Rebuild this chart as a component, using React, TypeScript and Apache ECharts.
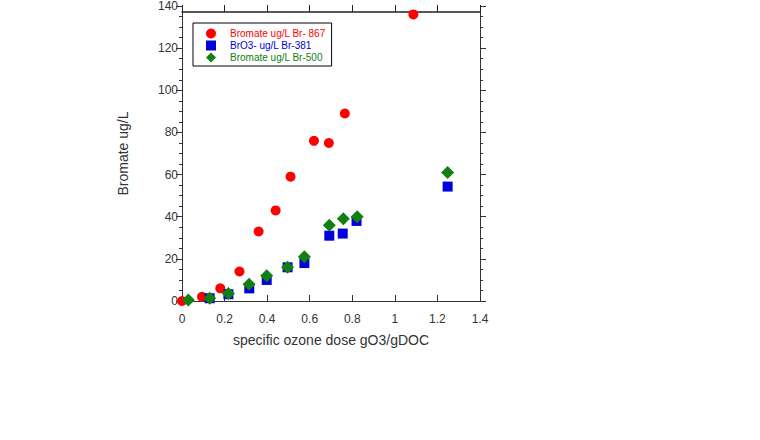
import React, { useEffect, useRef } from "react";
import * as echarts from "echarts";

const seriesNames = ["Bromate ug/L Br- 867", "BrO3- ug/L Br-381", "Bromate ug/L Br-500"];
const seriesColors = ["#ff0000", "#0000dd", "#118011"];

const red867: [number, number][] = [
  [0.0, 0], [0.094, 2], [0.18, 6], [0.27, 14], [0.36, 33], [0.44, 43],
  [0.51, 59], [0.62, 76], [0.69, 75], [0.765, 89], [1.087, 136],
];
const blue381: [number, number][] = [
  [0.13, 1.3], [0.218, 3.2], [0.316, 6], [0.398, 10], [0.496, 16], [0.575, 18],
  [0.692, 31], [0.755, 32], [0.82, 38], [1.248, 54.3],
];
const green500: [number, number][] = [
  [0.03, 0.5], [0.13, 1.3], [0.218, 3.6], [0.315, 8], [0.398, 12], [0.496, 16],
  [0.575, 21], [0.692, 36], [0.758, 39], [0.823, 40], [1.248, 61],
];

const xMin = 0, xMax = 1.4, xStep = 0.2;
const yMin = 0, yMax = 140, yStep = 20;

const FONT = "'Liberation Sans', Arial, sans-serif";
const AXIS_COLOR = "#333333";

export default function App() {
  const ref = useRef<HTMLDivElement>(null);
  useEffect(() => {
    document.body.style.margin = "0";
    const chart = echarts.init(ref.current!, undefined, { renderer: "svg" });
    chart.setOption({
      animation: false,
      textStyle: { fontFamily: FONT },
      grid: { left: 182, right: 280, top: 6, bottom: 139 },
      legend: {
        orient: "vertical",
        left: 193,
        top: 23,
        padding: [5, 6, 3, 13],
        itemWidth: 10,
        itemHeight: 10,
        itemGap: 1,
        borderColor: "#000",
        borderWidth: 1,
        textStyle: { fontSize: 10, fontFamily: FONT, lineHeight: 11, padding: [0, 0, 0, 9] },
        data: seriesNames.map((n, i) => ({ name: n, textStyle: { color: seriesColors[i] } })),
      },
      xAxis: [
        {
          type: "value", position: "bottom",
          min: xMin, max: xMax, interval: xStep,
          splitLine: { show: false },
          axisLine: { show: true, onZero: false, lineStyle: { color: AXIS_COLOR } },
          axisTick: { show: true, inside: true, length: 6, lineStyle: { color: AXIS_COLOR } },
          axisLabel: { color: "#333", fontSize: 12, margin: 12, fontFamily: FONT },
          name: "specific ozone dose gO3/gDOC",
          nameLocation: "middle",
          nameGap: 32,
          nameTextStyle: { color: "#333", fontSize: 14, fontFamily: FONT },
        },
        {
          type: "value", position: "top", offset: -6, show: true,
          min: xMin, max: xMax, interval: xStep,
          splitLine: { show: false },
          axisLine: { show: true, onZero: false, lineStyle: { color: "#222", width: 1.5 } },
          axisTick: { show: true, inside: false, length: 7, lineStyle: { color: "#222", width: 1 } },
          axisLabel: { show: false },
        },
      ],
      yAxis: [
        {
          type: "value", position: "left",
          min: yMin, max: yMax, interval: yStep,
          splitLine: { show: false },
          axisLine: { show: true, onZero: false, lineStyle: { color: AXIS_COLOR } },
          axisTick: { show: true, inside: false, length: 6, lineStyle: { color: AXIS_COLOR } },
          minorTick: { show: true, splitNumber: 4, length: 3, lineStyle: { color: AXIS_COLOR } },
          axisLabel: { color: "#333", fontSize: 12, margin: 4, fontFamily: FONT },
          name: "Bromate ug/L",
          nameLocation: "middle",
          nameGap: 52,
          nameTextStyle: { color: "#333", fontSize: 14, fontFamily: FONT },
        },
        {
          type: "value", position: "right",
          min: yMin, max: yMax, interval: yStep,
          splitLine: { show: false },
          axisLine: { show: true, onZero: false, lineStyle: { color: AXIS_COLOR } },
          axisTick: { show: true, inside: false, length: 6, lineStyle: { color: AXIS_COLOR } },
          minorTick: { show: true, splitNumber: 4, length: 3, lineStyle: { color: AXIS_COLOR } },
          axisLabel: { show: false },
        },
      ],
      series: [
        {
          name: seriesNames[0], type: "scatter", xAxisIndex: 0, yAxisIndex: 0,
          symbol: "circle", symbolSize: 10, data: red867,
          itemStyle: { color: seriesColors[0], opacity: 1 },
        },
        {
          name: seriesNames[1], type: "scatter", xAxisIndex: 0, yAxisIndex: 0,
          symbol: "rect", symbolSize: 10, data: blue381,
          itemStyle: { color: seriesColors[1], opacity: 1 },
        },
        {
          name: seriesNames[2], type: "scatter", xAxisIndex: 0, yAxisIndex: 0,
          symbol: "diamond", symbolSize: 13, data: green500,
          itemStyle: { color: seriesColors[2], opacity: 1 },
        },
      ],
    });
    return () => chart.dispose();
  }, []);
  return <div ref={ref} style={{ width: 760, height: 440 }} />;
}
